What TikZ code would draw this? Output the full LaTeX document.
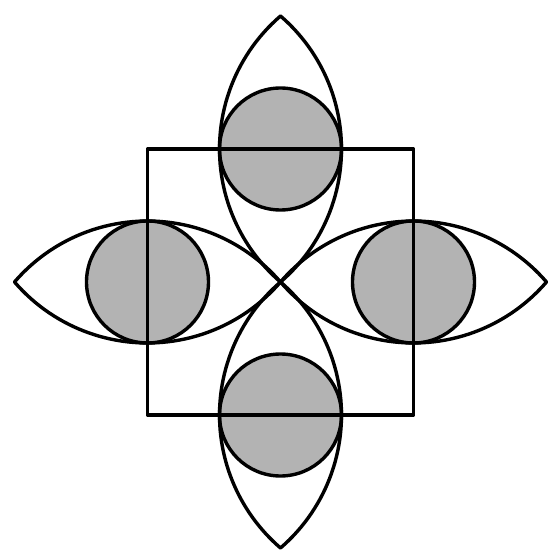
\documentclass[tikz,border=0pt]{standalone}
\begin{document}
\begin{tikzpicture}[x=1pt,y=1pt,
  ln/.style={line width=3.4pt,line join=round},
  disc/.style={ln,fill={rgb,255:red,179;green,179;blue,179}}]
\useasboundingbox (-280.5,-277) rectangle (278.5,282);
\def\s{133}\def\r{61}\def\R{175.5}\def\ph{49.27}
% discs
\foreach \a in {0,90,180,270}{
  \draw[disc,rotate=\a] (0,\s) circle[radius=\r];
}
% square
\draw[ln] (-\s,-\s) rectangle (\s,\s);
% lenses
\foreach \a in {0,90,180,270}{
  \begin{scope}[rotate=\a]
    \draw[ln] (0,0) arc[start angle=-\ph,end angle=\ph,radius=\R]
                    arc[start angle=180-\ph,end angle=180+\ph,radius=\R] -- cycle;
  \end{scope}
}
\end{tikzpicture}
\end{document}
